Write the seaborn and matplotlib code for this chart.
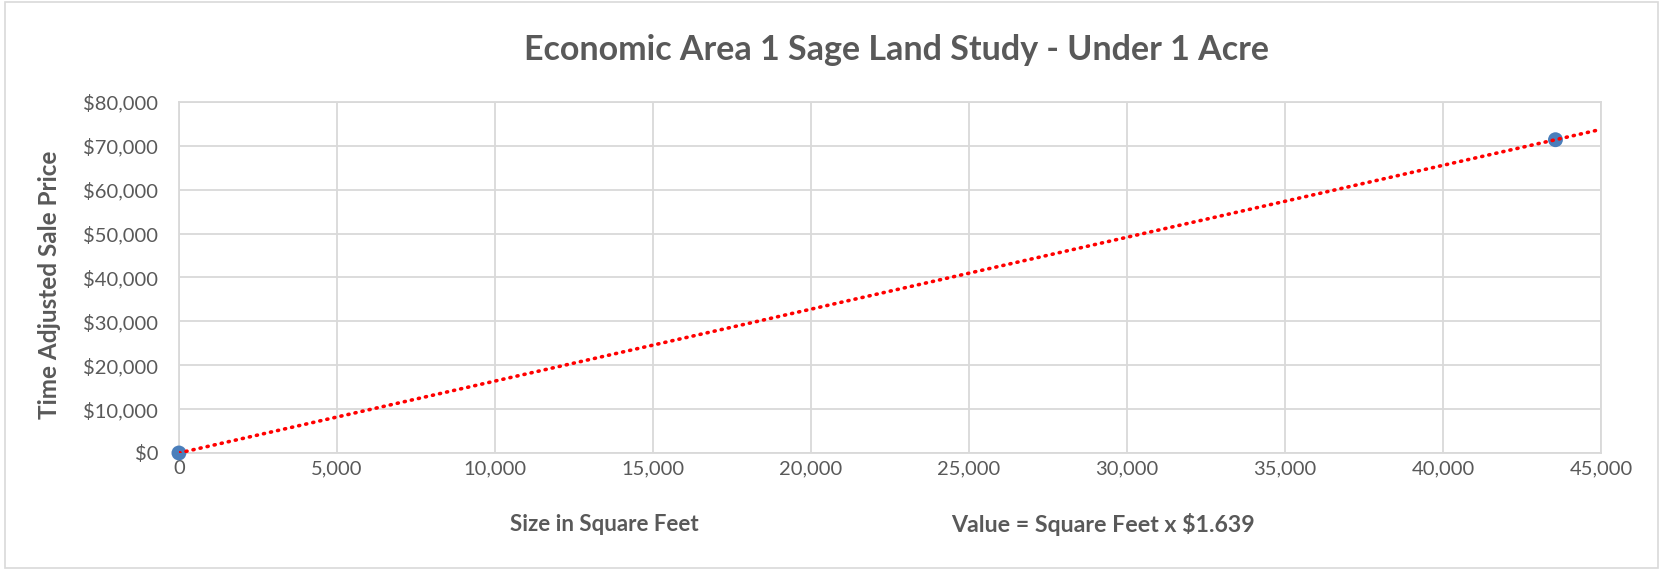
import matplotlib
matplotlib.use("Agg")
import matplotlib.pyplot as plt
import seaborn as sns
import pandas as pd
from matplotlib.ticker import FuncFormatter
from matplotlib.patches import Rectangle

# Data
size_sqft = [0, 43560]
sale_price = [0, 71400]
slope = 1.639
trend_x = [0, 45000]
x_ticks = [0, 5000, 10000, 15000, 20000, 25000, 30000, 35000, 40000, 45000]
y_ticks = [0, 10000, 20000, 30000, 40000, 50000, 60000, 70000, 80000]

title = "Economic Area 1 Sage Land Study - Under 1 Acre"
xlabel = "Size in Square Feet"
ylabel = "Time Adjusted Sale Price"
note = "Value = Square Feet x $1.639"

sns.set_theme(style="white")
plt.rcParams['font.family'] = ['Lato', 'DejaVu Sans']

fig = plt.figure(figsize=(16.63, 5.70), dpi=100)
ax = fig.add_axes([0.1076, 0.2053, 0.9627 - 0.1076, 0.8211 - 0.2053])

df = pd.DataFrame({"x": size_sqft, "y": sale_price})
tdf = pd.DataFrame({"x": trend_x, "y": [slope * v for v in trend_x]})

sns.lineplot(data=tdf, x="x", y="y", ax=ax, color="#ff0000", linewidth=2.6,
             linestyle=(0, (0.3, 1.7)), zorder=4)
ax.lines[-1].set_dash_capstyle("round")
sns.scatterplot(data=df, x="x", y="y", ax=ax, color="#4a7ebb", s=115,
                edgecolor="none", zorder=3, clip_on=False)

ax.set_xlim(0, 45000)
ax.set_ylim(0, 80000)
ax.set_xticks(x_ticks)
ax.set_yticks(y_ticks)
ax.xaxis.set_major_formatter(FuncFormatter(lambda v, p: f"{int(v):,}"))
ax.yaxis.set_major_formatter(FuncFormatter(lambda v, p: f"${int(v):,}"))
ax.grid(True, color="#d9d9d9", linewidth=1.3)
ax.set_axisbelow(True)
for s in ax.spines.values():
    s.set_color("#d9d9d9")
    s.set_linewidth(1.3)
ax.tick_params(axis="both", length=0, labelsize=14.5, colors="#595959")
ax.tick_params(axis="x", pad=5)
ax.tick_params(axis="y", pad=15)

ax.set_xlabel("")
ax.set_ylabel("")

fig.text(0.030, 0.50, ylabel, ha="center", va="center", rotation=90,
         fontsize=17.5, fontweight="bold", color="#595959")
fig.text(0.3635, 0.08, xlabel, ha="center", va="center", fontsize=16,
         fontweight="bold", color="#595959")
fig.text(0.663, 0.08, note, ha="center", va="center", fontsize=16.7,
         fontweight="bold", color="#595959")
fig.text(0.539, 0.912, title, ha="center", va="center", fontsize=24.5,
         fontweight="bold", color="#595959")

fig.patches.append(Rectangle((0.003, 0.004), 0.994, 0.992, transform=fig.transFigure,
                             fill=False, edgecolor="#d9d9d9", linewidth=1.2))

fig.savefig("out.png", dpi=100, facecolor="white")
